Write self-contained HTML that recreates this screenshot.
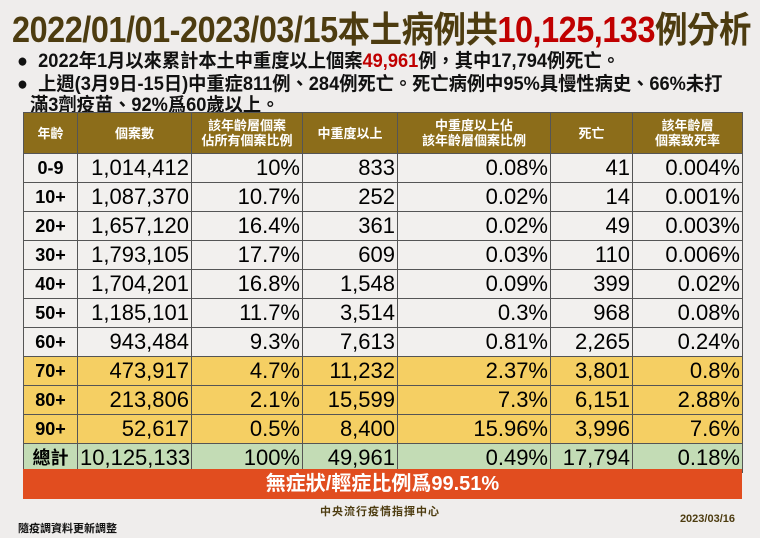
<!DOCTYPE html>
<html><head><meta charset="utf-8"><style>
body{margin:0;width:760px;height:538px;background:#efedec;position:relative;overflow:hidden;font-family:"Liberation Sans","Noto Sans CJK TC",sans-serif;}
.t{position:absolute;left:12px;top:1px;font-size:36px;font-weight:bold;color:#4d3c10;white-space:nowrap;transform:scaleX(0.9);transform-origin:left top;letter-spacing:-0.5px}
.t b{color:#c00000}
.bl{position:absolute;left:17px;font-size:19px;font-weight:bold;color:#111;white-space:nowrap;transform:scaleX(0.96);transform-origin:left top}
.bl b{color:#c00000}
table{position:absolute;left:23px;top:112px;border-collapse:collapse;table-layout:fixed;width:719px}
td,th{border:1px solid #555;padding:0 2px;overflow:hidden;white-space:nowrap}
th{background:#8c6d1a;color:#fff;font-size:13px;height:40px;line-height:15px;font-weight:bold}
td{height:28px;font-size:22px;text-align:right;color:#000;line-height:28px}
td:first-child{text-align:center;font-weight:bold;font-size:18px}
tr.w td{background:#f2f0ee}
tr.y td{background:#f5cf63}
tr.g td{background:#c3dcb5}
.o{position:absolute;left:23px;top:469px;width:719px;height:30px;background:#e14d1f;color:#fff;font-weight:bold;font-size:20px;text-align:center;line-height:30px}
.f1{position:absolute;left:0;width:760px;text-align:center;top:503px;font-size:11px;font-weight:bold;color:#4d3c10;letter-spacing:1px}
.f2{position:absolute;left:18px;top:520px;font-size:11px;font-weight:bold;color:#111}
.f3{position:absolute;right:25px;top:513px;font-size:11px;font-weight:bold;color:#4d3c10}
</style></head><body>
<div class="t">2022/01/01-2023/03/15本土病例共<b>10,125,133</b>例分析</div>
<div class="bl" style="top:46px">●&nbsp; 2022年1月以來累計本土中重度以上個案<b>49,961</b>例，其中17,794例死亡。</div>
<div class="bl" style="top:69px">●&nbsp; 上週(3月9日-15日)中重症811例、284例死亡。死亡病例中95%具慢性病史、66%未打</div>
<div class="bl" style="top:90px;left:30px">滿3劑疫苗、92%爲60歲以上。</div>
<table>
<colgroup><col style="width:54px"><col style="width:114px"><col style="width:111px"><col style="width:95px"><col style="width:153px"><col style="width:82px"><col style="width:110px"></colgroup>
<tr><th>年齡</th><th>個案數</th><th>該年齡層個案<br>佔所有個案比例</th><th>中重度以上</th><th>中重度以上佔<br>該年齡層個案比例</th><th>死亡</th><th>該年齡層<br>個案致死率</th></tr>
<tr class="w"><td>0-9</td><td>1,014,412</td><td>10%</td><td>833</td><td>0.08%</td><td>41</td><td>0.004%</td></tr>
<tr class="w"><td>10+</td><td>1,087,370</td><td>10.7%</td><td>252</td><td>0.02%</td><td>14</td><td>0.001%</td></tr>
<tr class="w"><td>20+</td><td>1,657,120</td><td>16.4%</td><td>361</td><td>0.02%</td><td>49</td><td>0.003%</td></tr>
<tr class="w"><td>30+</td><td>1,793,105</td><td>17.7%</td><td>609</td><td>0.03%</td><td>110</td><td>0.006%</td></tr>
<tr class="w"><td>40+</td><td>1,704,201</td><td>16.8%</td><td>1,548</td><td>0.09%</td><td>399</td><td>0.02%</td></tr>
<tr class="w"><td>50+</td><td>1,185,101</td><td>11.7%</td><td>3,514</td><td>0.3%</td><td>968</td><td>0.08%</td></tr>
<tr class="w"><td>60+</td><td>943,484</td><td>9.3%</td><td>7,613</td><td>0.81%</td><td>2,265</td><td>0.24%</td></tr>
<tr class="y"><td>70+</td><td>473,917</td><td>4.7%</td><td>11,232</td><td>2.37%</td><td>3,801</td><td>0.8%</td></tr>
<tr class="y"><td>80+</td><td>213,806</td><td>2.1%</td><td>15,599</td><td>7.3%</td><td>6,151</td><td>2.88%</td></tr>
<tr class="y"><td>90+</td><td>52,617</td><td>0.5%</td><td>8,400</td><td>15.96%</td><td>3,996</td><td>7.6%</td></tr>
<tr class="g"><td>總計</td><td>10,125,133</td><td>100%</td><td>49,961</td><td>0.49%</td><td>17,794</td><td>0.18%</td></tr>
</table>
<div class="o">無症狀/輕症比例爲99.51%</div>
<div class="f1">中央流行疫情指揮中心</div>
<div class="f3">2023/03/16</div>
<div class="f2">隨疫調資料更新調整</div>
</body></html>
